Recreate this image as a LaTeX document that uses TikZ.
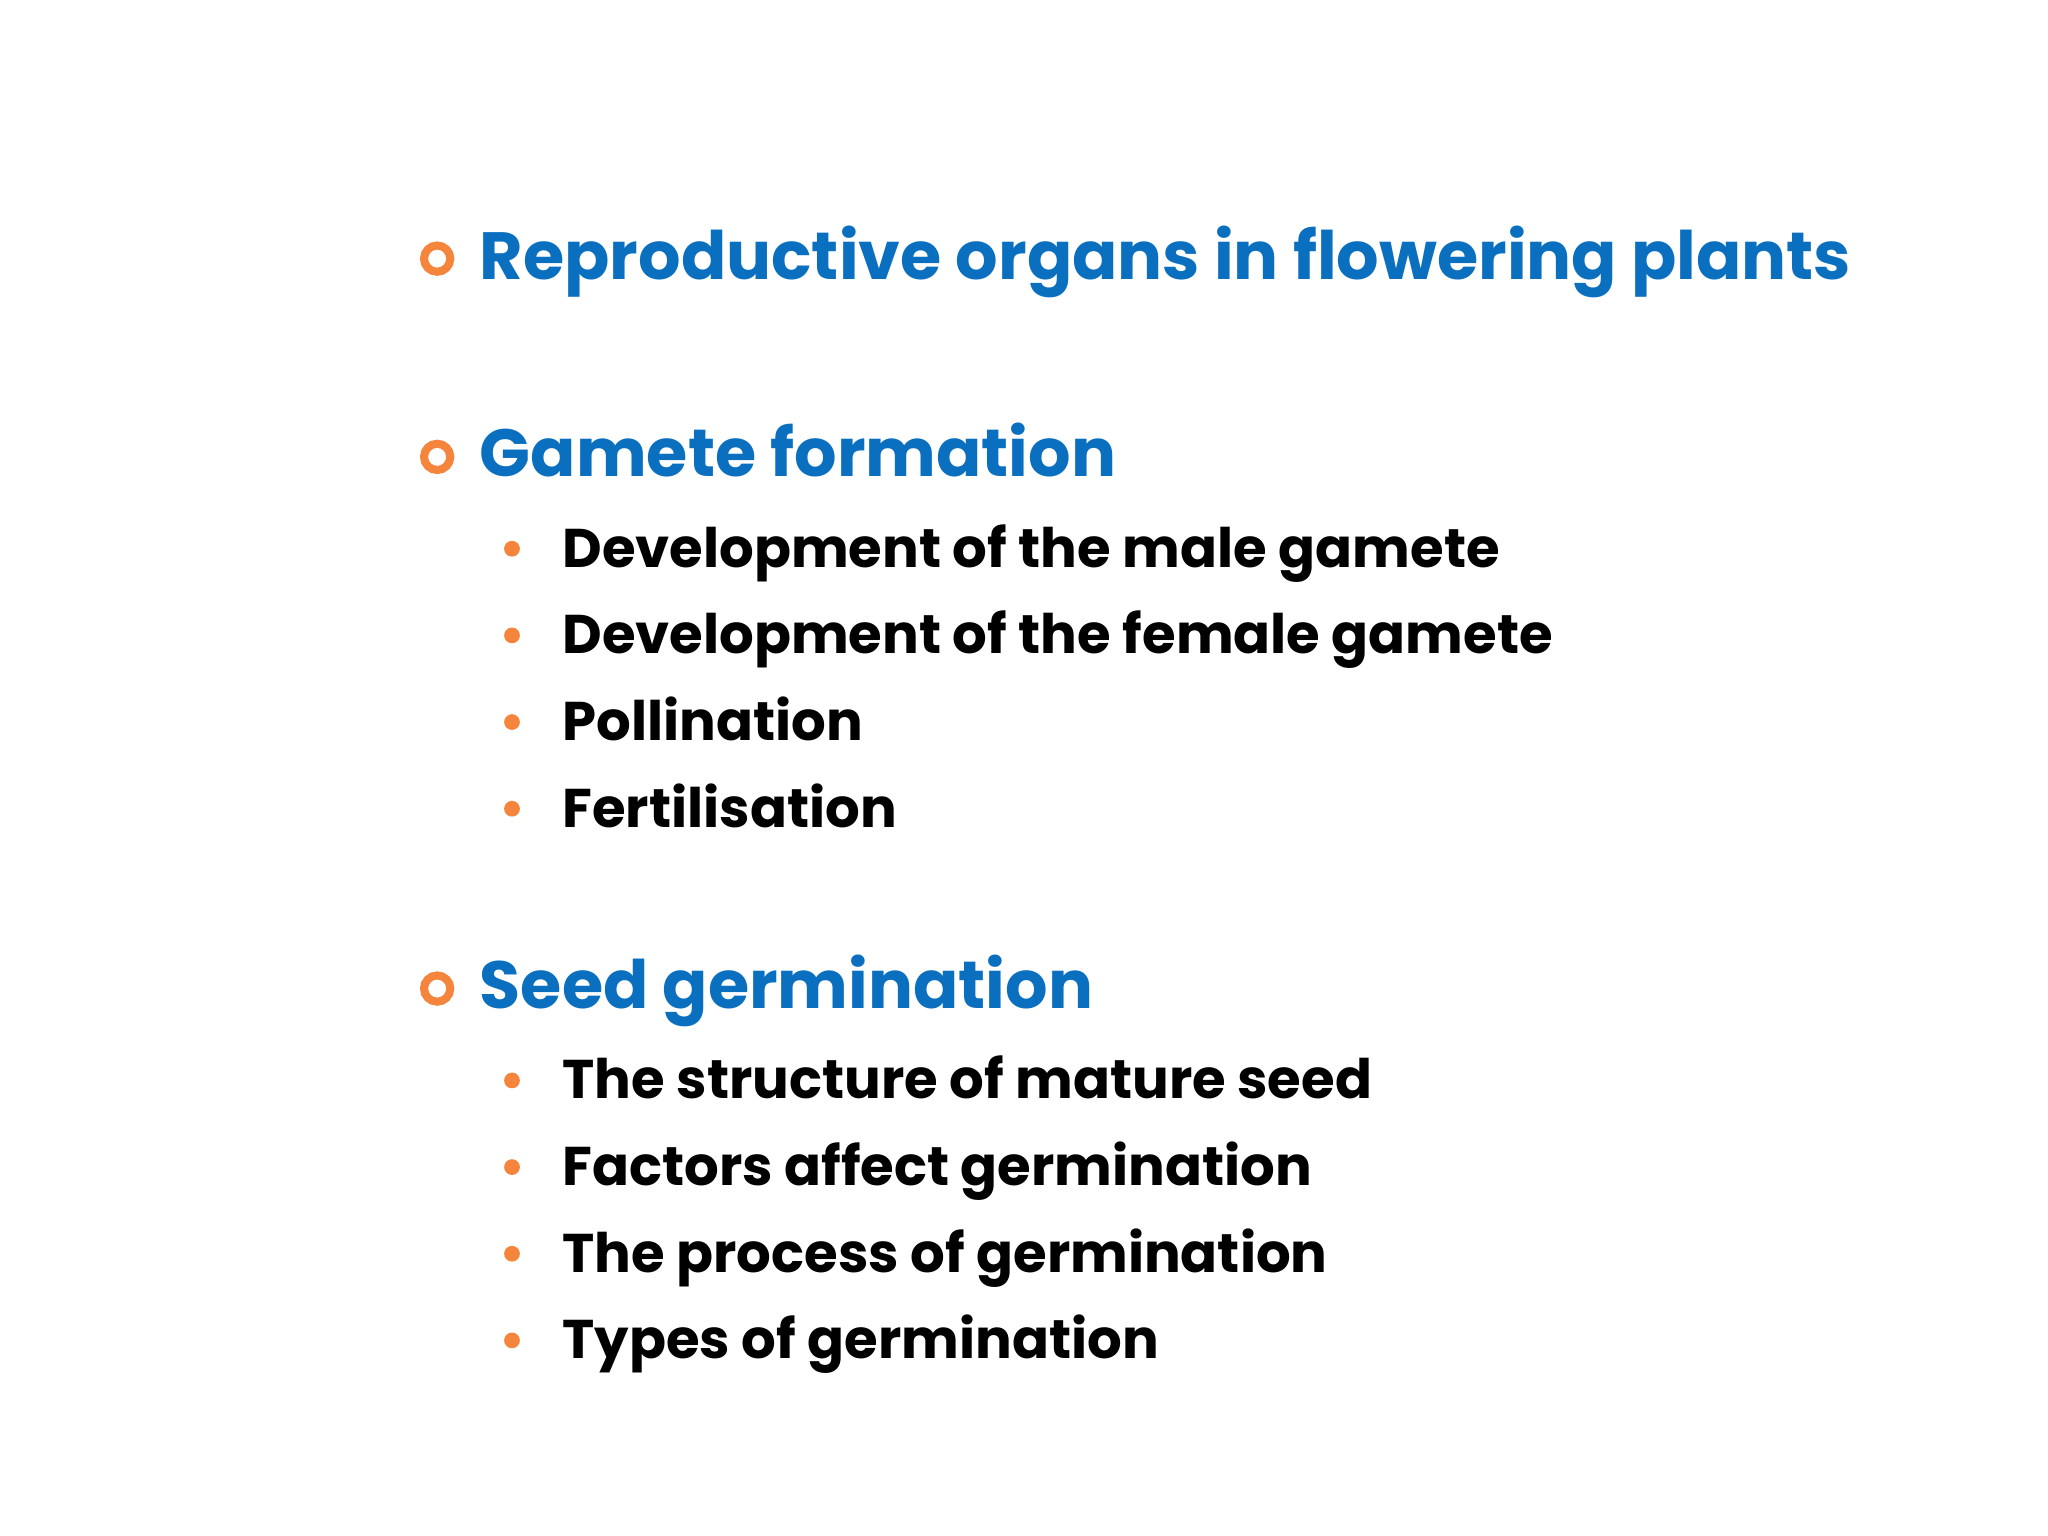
\documentclass[tikz,border=0pt]{standalone}
\usepackage{fontspec}
\setmainfont{Poppins}
\definecolor{hblue}{HTML}{0B6FBF}
\definecolor{borange}{HTML}{F5843C}
\begin{document}
\begin{tikzpicture}[x=0.01313cm,y=-0.01313cm,
  head/.style={anchor=base west,inner sep=0,text=hblue,font=\fontsize{19}{22}\selectfont\bfseries},
  item/.style={anchor=base west,inner sep=0,text=black,font=\fontsize{15.5}{18}\selectfont\bfseries},
  ring/.style={draw=borange,line width=2.3pt},
  dot/.style={fill=borange}]
\useasboundingbox (0,0) rectangle (1560,1170);
\node[head] (h1) at (365,213) {Reproductive organs in flowering plants};
\node[head] (h2) at (365,363) {Gamete formation};
\node[head] (h3) at (365,768) {Seed germination};
\foreach \y in {197,348,753} \draw[ring] (333,\y) circle (10);
\foreach \n/\y/\t in {a/432/Development of the male gamete,b/498/Development of the female gamete,c/564/Pollination,d/630/Fertilisation,e/837/The structure of mature seed,f/903/Factors affect germination,g/969/The process of germination,h/1035/Types of germination}{
  \node[item] (i\n) at (428,\y) {\t};
  \fill[dot] (390,\y-14) circle (6);
}
\end{tikzpicture}
\end{document}
